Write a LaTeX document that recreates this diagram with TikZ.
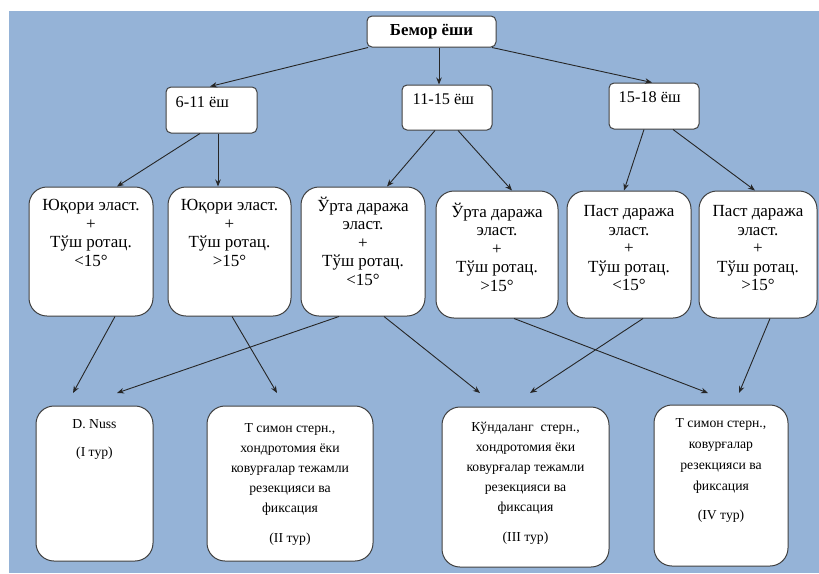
\documentclass[tikz,border=0pt]{standalone}
\usepackage{fontspec}
\setmainfont{Liberation Serif}
\usetikzlibrary{arrows.meta,calc}
\definecolor{bgblue}{RGB}{149,179,215}
\begin{document}
\begin{tikzpicture}[x=1pt,y=-1pt,
  box/.style={draw=black!75, line width=1pt, fill=white, inner sep=0pt},
  topbox/.style={box, rounded corners=5pt},
  midbox/.style={box, rounded corners=18pt},
  botbox/.style={box, rounded corners=18pt},
  arr/.style={draw=black!85, line width=0.9pt, -{Stealth[length=7pt,width=5.5pt]}},
  midtxt/.style={anchor=north, inner sep=0pt, align=center, font=\fontsize{17}{18.5}\selectfont},
  bottxt/.style={anchor=north, inner sep=0pt, align=center, font=\fontsize{13.7}{20}\selectfont},
  agetxt/.style={anchor=north west, inner sep=0pt, font=\fontsize{16.3}{18}\selectfont},
]
\useasboundingbox (0,0) rectangle (819,573);
\fill[bgblue] (9,11) rectangle (819,573);

% top row
\node[topbox, minimum width=129pt, minimum height=31pt] (top) at (431.5,31.5) {};
\node[inner sep=0pt, font=\bfseries\fontsize{16.8}{18}\selectfont] (topt) at (top) {Бемор ёши};

\node[topbox, minimum width=91pt, minimum height=46pt] (a1) at (211.5,110) {};
\node[topbox, minimum width=90pt, minimum height=45pt] (a2) at (447,107.5) {};
\node[topbox, minimum width=90pt, minimum height=46pt] (a3) at (654,106) {};
\node[agetxt] (a1t) at ([xshift=10pt,yshift=-10pt]a1.north west) {6-11 ёш};
\node[agetxt] (a2t) at ([xshift=11pt,yshift=-9pt]a2.north west) {11-15 ёш};
\node[agetxt] (a3t) at ([xshift=10pt,yshift=-9pt]a3.north west) {15-18 ёш};

% middle row
\node[midbox, minimum width=124pt, minimum height=129pt] (c1) at (91,251.5) {};
\node[midbox, minimum width=123pt, minimum height=129pt] (c2) at (229.5,251.5) {};
\node[midbox, minimum width=124pt, minimum height=129pt] (c3) at (363,251.5) {};
\node[midbox, minimum width=122pt, minimum height=127pt] (c4) at (497,254.5) {};
\node[midbox, minimum width=124pt, minimum height=127pt] (c5) at (629,254.5) {};
\node[midbox, minimum width=118pt, minimum height=127pt] (c6) at (758,254.5) {};

\node[midtxt] (c1t) at ([yshift=-10pt]c1.north) {\rule{0pt}{14pt}Юқори эласт.\\+\\Тўш ротац.\\<15°};
\node[midtxt] (c2t) at ([yshift=-10pt]c2.north) {\rule{0pt}{14pt}Юқори эласт.\\+\\Тўш ротац.\\>15°};
\node[midtxt] (c3t) at ([yshift=-10pt]c3.north) {\rule{0pt}{14pt}Ўрта даража\\эласт.\\+\\Тўш ротац.\\<15°};
\node[midtxt] (c4t) at ([yshift=-12pt]c4.north) {\rule{0pt}{14pt}Ўрта даража\\эласт.\\+\\Тўш ротац.\\>15°};
\node[midtxt] (c5t) at ([yshift=-12pt]c5.north) {\rule{0pt}{14pt}Паст даража\\эласт.\\+\\Тўш ротац.\\<15°};
\node[midtxt] (c6t) at ([yshift=-12pt]c6.north) {\rule{0pt}{14pt}Паст даража\\эласт.\\+\\Тўш ротац.\\>15°};

% bottom row
\node[botbox, minimum width=117pt, minimum height=155pt] (b1) at (94.5,483.5) {};
\node[botbox, minimum width=166pt, minimum height=155pt] (b2) at (290,483.5) {};
\node[botbox, minimum width=167pt, minimum height=160pt] (b3) at (525.5,487) {};
\node[botbox, minimum width=134pt, minimum height=161pt] (b4) at (721,485.5) {};

\node[bottxt] (b1t) at ([yshift=-10.6pt]b1.north) {\rule{0pt}{12pt}D. Nuss\\[8pt](I тур)};
\node[bottxt] (b2t) at ([yshift=-14.6pt]b2.north) {\rule{0pt}{12pt}Т симон стерн.,\\хондротомия ёки\\ковурғалар тежамли\\резекцияси ва\\фиксация\\[10pt](II тур)};
\node[bottxt] (b3t) at ([yshift=-12.6pt]b3.north) {\rule{0pt}{12pt}Кўндаланг\ \ стерн.,\\хондротомия ёки\\ковурғалар тежамли\\резекцияси ва\\фиксация\\[10pt](III тур)};
\node[bottxt, font=\fontsize{13.7}{21}\selectfont] (b4t) at ([yshift=-10.6pt]b4.north) {\rule{0pt}{12pt}Т симон стерн.,\\ковурғалар\\резекцияси ва\\фиксация\\[8pt](IV тур)};

% free ends above the bottom boxes
\coordinate (e1) at (73,393);
\coordinate (e2) at (117,393);
\coordinate (e3) at (277,393);
\coordinate (e4) at (480,393);
\coordinate (e5) at (530,393);
\coordinate (e6) at (708,393);
\coordinate (e7) at (739,393);

% connectors
\draw[arr] (top.south west -| 368,0) -- (a1.north -| 210,0);
\draw[arr] (top.south -| 439,0) -- (a2.north -| 439,0);
\draw[arr] (top.south -| 492,0) -- (a3.north -| 652,0);

\draw[arr] (a1.south -| 200,0) -- (c1.north -| 117,0);
\draw[arr] (a1.south -| 218,0) -- (c2.north -| 218,0);
\draw[arr] (a2.south -| 435,0) -- (c3.north -| 387,0);
\draw[arr] (a2.south -| 458,0) -- (c4.north -| 512,0);
\draw[arr] (a3.south -| 644,0) -- (c5.north -| 624,0);
\draw[arr] (a3.south -| 673,0) -- (c6.north -| 755,0);

\draw[arr] (c1.south -| 115,0) -- (e1);
\draw[arr] (c3.south -| 339,0) -- (e2);
\draw[arr] (c2.south -| 232,0) -- (e3);
\draw[arr] (c3.south -| 384,0) -- (e4);
\draw[arr] (c5.south -| 643,0) -- (e5);
\draw[arr] (c4.south -| 514,0) -- (e6);
\draw[arr] (c6.south -| 770,0) -- (e7);
\end{tikzpicture}
\end{document}
